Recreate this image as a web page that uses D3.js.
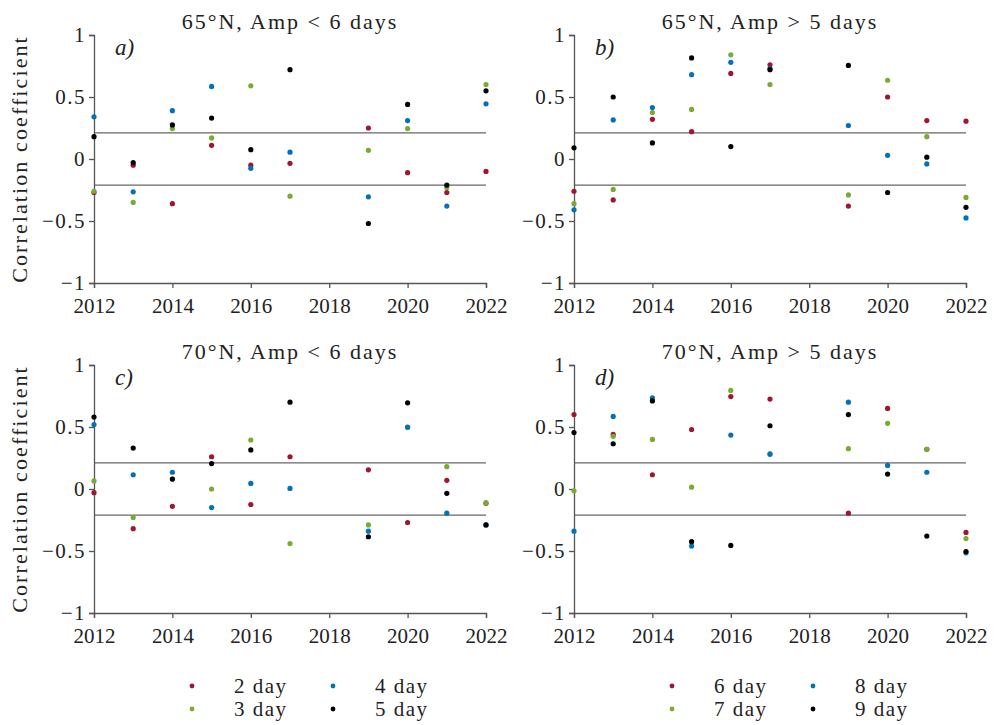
<!DOCTYPE html>
<html><head><meta charset="utf-8">
<script src="https://cdn.jsdelivr.net/npm/d3@7"></script>
<style>
body{margin:0;background:#fff;}
</style></head>
<body><svg id="c" width="999" height="725"></svg>
<script>
const years = [2012, 2013, 2014, 2015, 2016, 2017, 2019, 2020, 2021, 2022];
const xTicks = [2012, 2014, 2016, 2018, 2020, 2022];
const yTicks = [-1, -0.5, 0, 0.5, 1];
const yTickLabels = ["−1", "−0.5", "0", "0.5", "1"];
const threshold = 0.21;
const panelTitles = ["65°N, Amp < 6 days", "65°N, Amp > 5 days", "70°N, Amp < 6 days", "70°N, Amp > 5 days"];
const panelLetters = ["a)", "b)", "c)", "d)"];
const seriesLeft = ["2 day", "3 day", "4 day", "5 day"];
const seriesRight = ["6 day", "7 day", "8 day", "9 day"];
const colors = ["#A2142F", "#77AC30", "#0072BD", "#000000"];

// panel a: 65N, Amp<6 (2,3,4,5 day)
const a2 = [-0.27, -0.05, -0.36, 0.11, -0.05, -0.035, 0.25, -0.11, -0.27, -0.10];
const a3 = [-0.26, -0.35, 0.245, 0.17, 0.59, -0.30, 0.07, 0.245, -0.23, 0.60];
const a4 = [0.34, -0.265, 0.39, 0.585, -0.075, 0.055, -0.305, 0.31, -0.38, 0.445];
const a5 = [0.18, -0.03, 0.275, 0.33, 0.075, 0.72, -0.52, 0.44, -0.21, 0.55];
// panel b: 65N, Amp>5 (6,7,8,9 day)
const b6 = [-0.26, -0.33, 0.32, 0.22, 0.69, 0.76, -0.38, 0.50, 0.31, 0.305];
const b7 = [-0.36, -0.245, 0.375, 0.40, 0.84, 0.60, -0.29, 0.635, 0.18, -0.31];
const b8 = [-0.41, 0.315, 0.415, 0.68, 0.78, 0.73, 0.27, 0.03, -0.04, -0.475];
const b9 = [0.09, 0.50, 0.13, 0.815, 0.10, 0.72, 0.755, -0.27, 0.015, -0.39];
// panel c: 70N, Amp<6 (2,3,4,5 day)
const c2 = [-0.03, -0.32, -0.14, 0.26, -0.125, 0.26, 0.155, -0.27, 0.07, -0.115];
const c3 = [0.065, -0.23, 0.08, 0.0, 0.395, -0.44, -0.29, 0.495, 0.18, -0.11];
const c4 = [0.52, 0.115, 0.135, -0.15, 0.045, 0.005, -0.34, 0.50, -0.195, -0.29];
const c5 = [0.58, 0.33, 0.08, 0.205, 0.315, 0.70, -0.385, 0.695, -0.035, -0.29];
// panel d: 70N, Amp>5 (6,7,8,9 day)
const d6 = [0.60, 0.44, 0.115, 0.48, 0.745, 0.725, -0.195, 0.65, 0.32, -0.35];
const d7 = [-0.015, 0.425, 0.40, 0.015, 0.795, 0.285, 0.325, 0.53, 0.32, -0.40];
const d8 = [-0.34, 0.585, 0.735, -0.46, 0.435, 0.28, 0.70, 0.19, 0.135, -0.515];
const d9 = [0.455, 0.365, 0.71, -0.425, -0.455, 0.51, 0.60, 0.12, -0.38, -0.505];

const panelData = [[a2, a3, a4, a5], [b6, b7, b8, b9], [c2, c3, c4, c5], [d6, d7, d8, d9]];

const FONT = '"Liberation Serif", "Times New Roman", serif';
const svg = d3.select("#c");
const xRanges = [[94, 486], [574, 966]];
const yRanges = [[283, 35], [613, 365]];
const axisColor = "#555";

panelData.forEach((series, i) => {
  const col = i % 2, row = Math.floor(i / 2);
  const x = d3.scaleLinear().domain([2012, 2022]).range(xRanges[col]);
  const y = d3.scaleLinear().domain([-1, 1]).range(yRanges[row]);
  const g = svg.append("g");

  // threshold lines
  [threshold, -threshold].forEach(t => {
    g.append("line").attr("x1", x(2012)).attr("x2", x(2022))
      .attr("y1", y(t)).attr("y2", y(t))
      .attr("stroke", "#666").attr("stroke-width", 1.3);
  });

  // axes
  const xa = g.append("g").attr("transform", `translate(0,${y(-1)})`)
    .call(d3.axisBottom(x).tickValues(xTicks).tickFormat(d3.format("d")).tickSizeOuter(0).tickSize(5));
  const ya = g.append("g").attr("transform", `translate(${x(2012)},0)`)
    .call(d3.axisLeft(y).tickValues(yTicks).tickFormat((d, k) => yTickLabels[k]).tickSizeOuter(0).tickSize(5));
  [xa, ya].forEach(a => {
    a.select(".domain").attr("stroke", axisColor).attr("stroke-width", 1.3);
    a.selectAll(".tick line").attr("stroke", axisColor).attr("stroke-width", 1.3);
    a.selectAll(".tick text").style("font-family", FONT).style("font-size", "21px")
      .attr("fill", "#222");
  });
  xa.selectAll(".tick text").attr("dy", null).attr("y", 30);
  ya.selectAll(".tick text").attr("x", -8).style("letter-spacing", "1.5px");

  // title
  g.append("text").attr("x", (xRanges[col][0] + xRanges[col][1]) / 2).attr("y", yRanges[row][1] - 6)
    .attr("text-anchor", "middle").style("font-family", FONT).style("font-size", "22px")
    .style("letter-spacing", "2px").attr("fill", "#222")
    .text(panelTitles[i]);
  // letter
  g.append("text").attr("x", x(2012) + 21).attr("y", y(1) + 20)
    .style("font-family", FONT).style("font-size", "23px").style("font-style", "italic")
    .attr("fill", "#222").text(panelLetters[i]);

  // points
  series.forEach((vals, s) => {
    g.append("g").selectAll("circle").data(vals).join("circle")
      .attr("cx", (d, k) => x(years[k])).attr("cy", d => y(d))
      .attr("r", 2.6).attr("fill", colors[s]);
  });
});

// y labels
[0, 1].forEach(row => {
  const cy = (yRanges[row][0] + yRanges[row][1]) / 2;
  svg.append("text").attr("transform", `translate(27,${cy}) rotate(-90)`)
    .attr("text-anchor", "middle").style("font-family", FONT).style("font-size", "22px")
    .style("letter-spacing", "2.1px").attr("fill", "#222")
    .text("Correlation coefficient");
});

// legends
[[seriesLeft, 192], [seriesRight, 672]].forEach(([names, x0]) => {
  names.forEach((n, k) => {
    const cx = x0 + (k >= 2 ? 141 : 0);
    const cy = k % 2 === 0 ? 686 : 709;
    svg.append("circle").attr("cx", cx).attr("cy", cy).attr("r", 2.4).attr("fill", colors[k]);
    svg.append("text").attr("x", cx + 42).attr("y", cy + 7)
      .style("font-family", FONT).style("font-size", "21px")
      .style("letter-spacing", "1.5px").attr("fill", "#222").text(n);
  });
});
</script></body></html>
